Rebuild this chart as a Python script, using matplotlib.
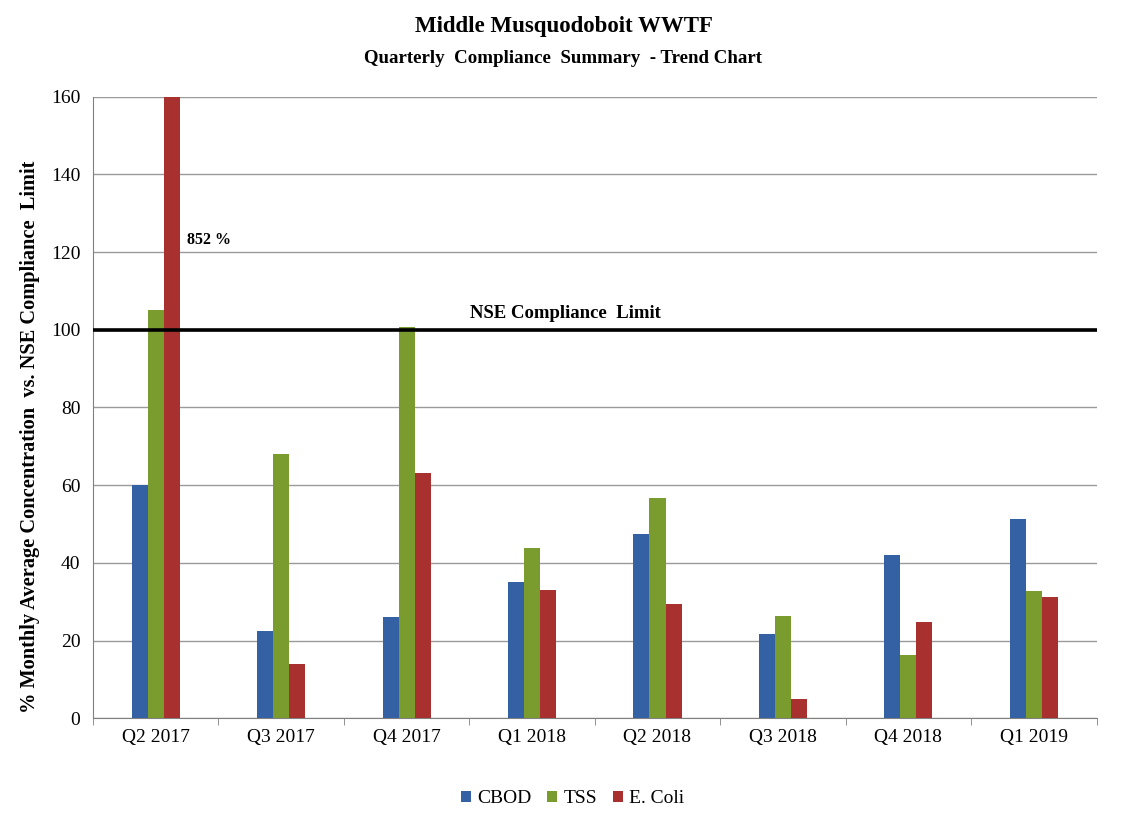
import matplotlib.pyplot as plt
import numpy as np

plt.rcParams['font.family'] = ['Liberation Serif', 'DejaVu Serif']

quarters = ["Q2 2017", "Q3 2017", "Q4 2017", "Q1 2018", "Q2 2018", "Q3 2018", "Q4 2018", "Q1 2019"]
cbod = [60, 22.4, 26, 35.2, 47.3, 21.6, 41.9, 51.2]
tss = [105.2, 67.9, 100.8, 43.7, 56.6, 26.2, 16.2, 32.7]
ecoli = [852, 13.9, 63, 32.9, 29.3, 4.9, 24.7, 31.1]
limit = 100

fig = plt.figure(figsize=(11.27, 8.19), dpi=100)
ax = fig.add_axes([0.0825, 0.123, 0.8905, 0.759])

x = np.arange(len(quarters))
w = 0.128
ax.bar(x - w, cbod, w, color="#3461a3", label="CBOD", zorder=3)
ax.bar(x, tss, w, color="#7a9c2f", label="TSS", zorder=3)
ax.bar(x + w, ecoli, w, color="#a8302f", label="E. Coli", zorder=3)

ax.axhline(limit, color="black", lw=2.6, zorder=4)
ax.text(3.27, limit + 2, "NSE Compliance  Limit", ha="center", va="bottom",
        fontsize=13.5, fontweight="bold")
ax.text(0.25, 123, "852 %", ha="left", va="center", fontsize=11.5, fontweight="bold")

ax.set_ylim(0, 160)
ax.set_xlim(-0.5, len(quarters) - 0.5)
ax.set_yticks(range(0, 161, 20))
ax.yaxis.grid(True, color="#9a9a9a", lw=1, zorder=0)
ax.tick_params(axis="y", length=0, labelsize=14, pad=9)
ax.set_xticks(x)
ax.set_xticklabels(quarters, fontsize=14)
ax.tick_params(axis="x", length=0, pad=8)
ax.set_xticks(np.arange(-0.5, len(quarters), 1), minor=True)
ax.tick_params(axis="x", which="minor", length=5, color="#808080")
for s in ["top", "right"]:
    ax.spines[s].set_visible(False)
for s in ["left", "bottom"]:
    ax.spines[s].set_color("#808080")

ax.set_ylabel("% Monthly Average Concentration  vs. NSE Compliance  Limit",
              fontsize=14.7, fontweight="bold")
ax.yaxis.set_label_coords(-0.053, 0.452)

fig.text(0.5, 0.968, "Middle Musquodoboit WWTF", ha="center", va="center",
         fontsize=16.5, fontweight="bold")
fig.text(0.5, 0.929, "Quarterly  Compliance  Summary  - Trend Chart", ha="center",
         va="center", fontsize=13.6, fontweight="bold")

ax.legend(loc="upper center", bbox_to_anchor=(0.478, -0.088), ncol=3, frameon=False,
          fontsize=14, handlelength=0.5, handleheight=0.5, handletextpad=0.35,
          columnspacing=0.8)

fig.savefig("out.png", dpi=100, facecolor="white")
